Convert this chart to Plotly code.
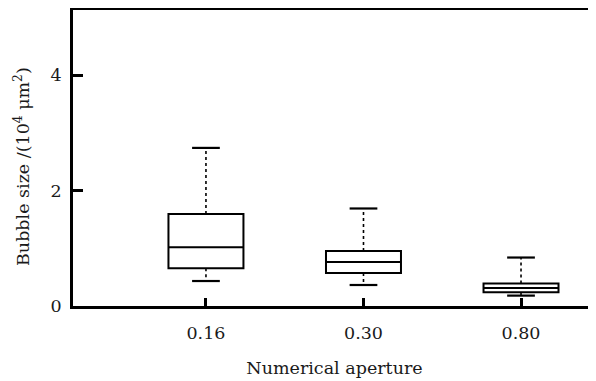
import plotly.graph_objects as go

categories = ["0.16", "0.30", "0.80"]
q1 = [0.653, 0.571, 0.24]
median = [1.02, 0.762, 0.31]
q3 = [1.593, 0.952, 0.39]
lower_whisker = [0.433, 0.364, 0.18]
upper_whisker = [2.74, 1.69, 0.84]
y_ticks = [0, 2, 4]
x_title = "Numerical aperture"
y_title = "Bubble size /(10<sup>4</sup> μm<sup>2</sup>)"

FONT = "DejaVu Serif"
pos = list(range(len(categories)))
box_w = 0.476
cap_half = 0.088

fig = go.Figure()

# dotted whisker stems
sx, sy = [], []
for i in pos:
    sx += [i, i, None, i, i, None]
    sy += [q3[i], upper_whisker[i], None, q1[i], lower_whisker[i], None]
fig.add_trace(go.Scatter(x=sx, y=sy, mode="lines",
                         line=dict(color="black", width=1.6, dash="dot"),
                         hoverinfo="skip", showlegend=False))
# caps
cx, cy = [], []
for i in pos:
    cx += [i - cap_half, i + cap_half, None, i - cap_half, i + cap_half, None]
    cy += [upper_whisker[i], upper_whisker[i], None, lower_whisker[i], lower_whisker[i], None]
fig.add_trace(go.Scatter(x=cx, y=cy, mode="lines",
                         line=dict(color="black", width=2.2),
                         hoverinfo="skip", showlegend=False))

fig.add_trace(go.Box(x=pos, q1=q1, median=median, q3=q3,
                     lowerfence=q1, upperfence=q3,
                     width=box_w, whiskerwidth=0,
                     fillcolor="rgba(0,0,0,0)",
                     line=dict(color="black", width=2),
                     boxpoints=False, showlegend=False))

fig.add_annotation(text=y_title, xref="paper", yref="paper", x=0, y=0.5,
                   xanchor="center", yanchor="middle", textangle=-90,
                   xshift=-51, yshift=-9, showarrow=False,
                   font=dict(family=FONT, size=17.5, color="#1a1a1a"))

fig.update_layout(
    width=588, height=373,
    margin=dict(l=65, r=0, t=2, b=75),
    paper_bgcolor="white", plot_bgcolor="white",
    font=dict(family=FONT, size=17.5, color="#1a1a1a"),
    xaxis=dict(range=[-0.844, 2.476], tickvals=pos, ticktext=categories,
               showgrid=False, zeroline=False, automargin=False,
               showline=True, linecolor="black", linewidth=2.5, mirror=True,
               ticks="inside", ticklen=8, tickwidth=2.5, tickcolor="black",
               ticklabelstandoff=9,
               title=dict(text=x_title, standoff=20,
                          font=dict(family=FONT, size=17.5))),
    yaxis=dict(range=[0, 5.13], tickvals=y_ticks,
               showgrid=False, zeroline=False, automargin=False,
               showline=True, linecolor="black", linewidth=2.5,
               ticks="inside", ticklen=10, tickwidth=2.5, tickcolor="black",
               ticklabelstandoff=5),
)

fig.write_html("out.html")
